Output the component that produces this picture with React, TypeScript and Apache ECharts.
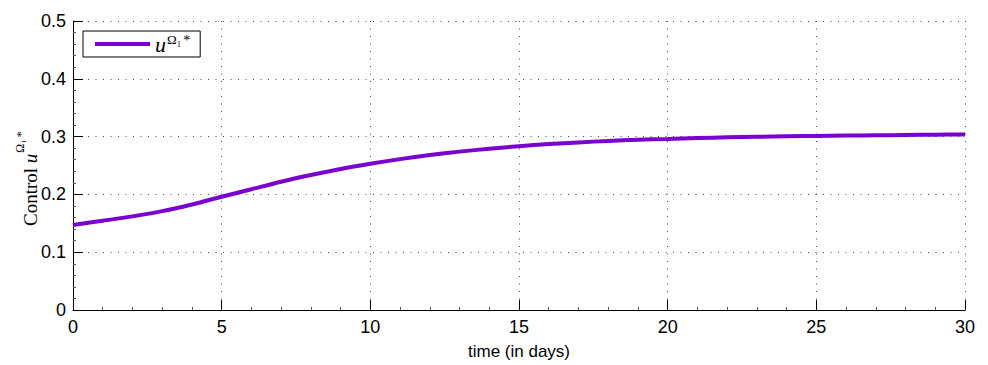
import React, { useEffect, useRef } from "react";
import * as echarts from "echarts";

const days = [0,1,2,3,4,5,6,7,8,9,10,11,12,13,14,15,16,17,18,19,20,21,22,23,24,25,26,27,28,29,30];
const control = [0.147,0.1545,0.162,0.171,0.1825,0.196,0.209,0.222,0.2335,0.244,0.253,0.261,0.268,0.274,0.279,0.2835,0.287,0.290,0.2925,0.2945,0.296,0.2975,0.2987,0.2997,0.3005,0.3012,0.3018,0.3023,0.3028,0.3033,0.3037];
const seriesName = "u*";
const xLabel = "time (in days)";

export default function App() {
  const ref = useRef<HTMLDivElement>(null);
  useEffect(() => {
    const chart = echarts.init(ref.current!, null, { renderer: "svg" });
    const axisFont = { fontFamily: "Liberation Sans, Arial, sans-serif", fontSize: 18, color: "#000" };
    const grid = { left: 73, right: 23, top: 21, bottom: 51 };
    const gridLine = { show: true, lineStyle: { color: "#444", width: 1, type: [1, 6.5] as any } };
    const serif = "Liberation Serif, Times New Roman, serif";
    chart.setOption({
      animation: false,
      backgroundColor: "#fff",
      grid,
      legend: {
        left: 83,
        top: 31,
        orient: "vertical",
        padding: [2, 10, 2, 12],
        borderColor: "#000",
        borderWidth: 1,
        borderRadius: 0,
        backgroundColor: "#fff",
        itemWidth: 55,
        itemHeight: 4,
        itemGap: 0,
        icon: "rect",
        formatter: () => "{u|u}{s|Ω₁}{t|*}",
        textStyle: {
          rich: {
            u: { fontFamily: serif, fontStyle: "italic", fontSize: 22, color: "#000", verticalAlign: "bottom", lineHeight: 22 },
            s: { fontFamily: serif, fontSize: 13, color: "#000", verticalAlign: "top", lineHeight: 22, padding: [0, 2, 0, 1] },
            t: { fontFamily: serif, fontSize: 14, color: "#000", verticalAlign: "top", lineHeight: 22 },
          },
        },
        data: [seriesName],
      },
      xAxis: {
        type: "value",
        min: 0,
        max: 30,
        interval: 5,
        name: xLabel,
        nameLocation: "middle",
        nameGap: 33,
        nameTextStyle: { ...axisFont, fontSize: 17 },
        axisLine: { show: true, onZero: false, lineStyle: { color: "#000", width: 1 } },
        axisTick: { show: true, inside: true, length: 10, lineStyle: { color: "#000" } },
        minorTick: { show: true, splitNumber: 5, length: 3, lineStyle: { color: "#555" } },
        axisLabel: { ...axisFont, margin: 8 },
        splitLine: gridLine,
      },
      yAxis: {
        type: "value",
        min: 0,
        max: 0.5,
        interval: 0.1,
        axisLine: { show: true, onZero: false, lineStyle: { color: "#000", width: 1 } },
        axisTick: { show: true, inside: true, length: 10, lineStyle: { color: "#000" } },
        minorTick: { show: true, splitNumber: 5, length: 3, lineStyle: { color: "#555" } },
        axisLabel: { ...axisFont, margin: 7 },
        splitLine: gridLine,
      },
      graphic: [
        {
          type: "text",
          x: 14,
          y: 226,
          rotation: Math.PI / 2,
          style: {
            text: "{a|Control }{u|u}{s|Ω₁}{t|*}",
            rich: {
              a: { fontFamily: serif, fontSize: 19, fill: "#000", verticalAlign: "bottom", lineHeight: 26 },
              u: { fontFamily: serif, fontStyle: "italic", fontSize: 19, fill: "#000", verticalAlign: "bottom", lineHeight: 26 },
              s: { fontFamily: serif, fontSize: 12, fill: "#000", verticalAlign: "top", lineHeight: 26, padding: [0, 2, 0, 1] },
              t: { fontFamily: serif, fontSize: 13, fill: "#000", verticalAlign: "top", lineHeight: 26 },
            },
          },
        },
      ],
      series: [
        {
          name: seriesName,
          type: "line",
          smooth: 0.3,
          showSymbol: false,
          lineStyle: { color: "#7a00d2", width: 4 },
          itemStyle: { color: "#7a00d2" },
          data: days.map((d, i) => [d, control[i]]),
        },
      ],
    });
    return () => chart.dispose();
  }, []);
  return <div ref={ref} style={{ width: 988, height: 365, position: "absolute", left: 0, top: 0 }} />;
}
